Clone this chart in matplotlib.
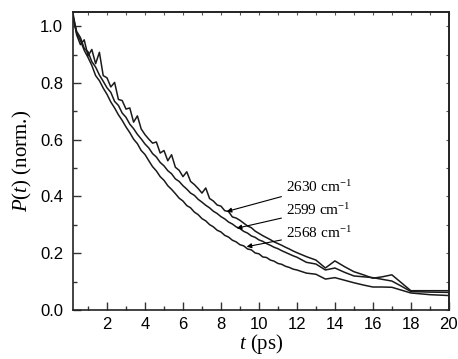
import matplotlib
matplotlib.use('Agg')
import matplotlib.pyplot as plt
from matplotlib.ticker import MultipleLocator

# time axis (ps): dense part, then coarse tail
t = [0.2, 0.4, 0.6, 0.8, 1.0, 1.2, 1.4, 1.6, 1.8, 2.0,
     2.2, 2.4, 2.6, 2.8, 3.0, 3.2, 3.4, 3.6, 3.8, 4.0,
     4.2, 4.4, 4.6, 4.8, 5.0, 5.2, 5.4, 5.6, 5.8, 6.0,
     6.2, 6.4, 6.6, 6.8, 7.0, 7.2, 7.4, 7.6, 7.8, 8.0,
     8.2, 8.4, 8.6, 8.8, 9.0, 9.2, 9.4, 9.6, 9.8, 10.0,
     10.2, 10.4, 10.6, 10.8, 11.0, 11.2, 11.4, 11.6, 11.8, 12.0,
     12.5, 13.0, 13.5, 14.0, 14.5, 15.0, 15.5, 16.0, 16.5, 17.0,
     17.5, 18.0, 19.0, 20.0]

p_2630 = [1.05, 0.970, 0.935, 0.952, 0.895, 0.918, 0.868, 0.908, 0.826, 0.818,
          0.786, 0.802, 0.742, 0.738, 0.708, 0.712, 0.662, 0.684, 0.638, 0.618,
          0.602, 0.588, 0.592, 0.553, 0.562, 0.526, 0.547, 0.503, 0.492, 0.470,
          0.487, 0.453, 0.442, 0.428, 0.412, 0.430, 0.393, 0.384, 0.370, 0.366,
          0.350, 0.347, 0.328, 0.324, 0.316, 0.306, 0.296, 0.290, 0.278, 0.270,
          0.262, 0.255, 0.248, 0.240, 0.234, 0.228, 0.221, 0.215, 0.208, 0.202,
          0.188, 0.176, 0.148, 0.173, 0.153, 0.135, 0.124, 0.112, 0.117, 0.124,
          0.096, 0.068, 0.068, 0.068]

p_2599 = [1.04, 0.982, 0.960, 0.922, 0.910, 0.875, 0.856, 0.828, 0.806, 0.783,
          0.767, 0.735, 0.721, 0.694, 0.679, 0.655, 0.639, 0.619, 0.603, 0.585,
          0.571, 0.551, 0.539, 0.520, 0.508, 0.491, 0.480, 0.462, 0.453, 0.438,
          0.426, 0.412, 0.404, 0.390, 0.380, 0.369, 0.360, 0.348, 0.340, 0.329,
          0.321, 0.310, 0.303, 0.293, 0.287, 0.277, 0.271, 0.261, 0.256, 0.247,
          0.242, 0.234, 0.228, 0.221, 0.216, 0.209, 0.203, 0.197, 0.191, 0.186,
          0.168, 0.162, 0.141, 0.148, 0.133, 0.120, 0.117, 0.114, 0.108, 0.102,
          0.084, 0.065, 0.063, 0.062]

p_2568 = [1.03, 0.975, 0.950, 0.915, 0.890, 0.862, 0.826, 0.808, 0.782, 0.760,
          0.733, 0.712, 0.688, 0.668, 0.645, 0.625, 0.602, 0.586, 0.562, 0.548,
          0.526, 0.505, 0.490, 0.470, 0.457, 0.438, 0.425, 0.410, 0.394, 0.384,
          0.368, 0.360, 0.345, 0.336, 0.322, 0.314, 0.301, 0.293, 0.281, 0.275,
          0.263, 0.257, 0.246, 0.240, 0.230, 0.226, 0.215, 0.212, 0.201, 0.198,
          0.187, 0.185, 0.176, 0.172, 0.164, 0.161, 0.154, 0.150, 0.144, 0.141,
          0.130, 0.126, 0.109, 0.114, 0.105, 0.096, 0.088, 0.081, 0.081, 0.080,
          0.070, 0.060, 0.054, 0.051]

labels = ['2630 cm$^{-1}$', '2599 cm$^{-1}$', '2568 cm$^{-1}$']
label_xy = [(11.4, 0.435), (11.4, 0.353), (11.4, 0.272)]
arrow_xy = [(8.3, 0.347), (8.83, 0.288), (9.35, 0.223)]

plt.rcParams['mathtext.fontset'] = 'custom'
plt.rcParams['mathtext.rm'] = 'Liberation Serif'
plt.rcParams['mathtext.it'] = 'Liberation Serif:italic'

fig = plt.figure(figsize=(4.58, 3.59), dpi=100)
ax = fig.add_axes([0.159, 0.1365, 0.821, 0.830])

for series in (p_2630, p_2599, p_2568):
    ax.plot(t, series, color='#1a1a1a', lw=1.1)

for lab, txy, axy in zip(labels, label_xy, arrow_xy):
    ax.annotate(lab, xy=axy, xytext=txy, ha='left', va='center',
                family='Liberation Serif', fontsize=11,
                arrowprops=dict(arrowstyle='-|>', color='black', lw=0.8,
                                mutation_scale=7, shrinkA=1, shrinkB=0))

ax.set_xlim(0.2, 20)
ax.set_ylim(0, 1.05)
ax.xaxis.set_major_locator(MultipleLocator(2))
ax.xaxis.set_minor_locator(MultipleLocator(1))
ax.yaxis.set_major_locator(MultipleLocator(0.2))
ax.yaxis.set_minor_locator(MultipleLocator(0.1))
ax.yaxis.set_major_formatter(plt.FormatStrFormatter('%.1f'))

ax.tick_params(which='both', direction='in', width=1.0, color='#333333')
ax.tick_params(which='major', length=5.5)
ax.tick_params(which='minor', length=3)
ax.tick_params(axis='y', pad=7)
ax.tick_params(axis='x', pad=5)
for lab in ax.get_xticklabels() + ax.get_yticklabels():
    lab.set_family('Liberation Sans')
    lab.set_fontsize(12)

# small ticks on top and right
top = ax.secondary_xaxis('top')
top.xaxis.set_major_locator(MultipleLocator(1))
top.tick_params(direction='in', length=2.5, width=0.8, labeltop=False, color='#555555')
right = ax.secondary_yaxis('right')
right.yaxis.set_major_locator(MultipleLocator(0.1))
right.tick_params(direction='in', length=2.5, width=0.8, labelright=False, color='#555555')

for sp in list(ax.spines.values()) + [top.spines['top'], right.spines['right']]:
    sp.set_linewidth(1.2)
    sp.set_color('#222222')

ax.set_xlabel('$t$ (ps)', family='Liberation Serif', fontsize=15, labelpad=0)
ax.set_ylabel('$P$($t$) (norm.)', family='Liberation Serif', fontsize=15, labelpad=4)

fig.savefig('out.png', dpi=100)
